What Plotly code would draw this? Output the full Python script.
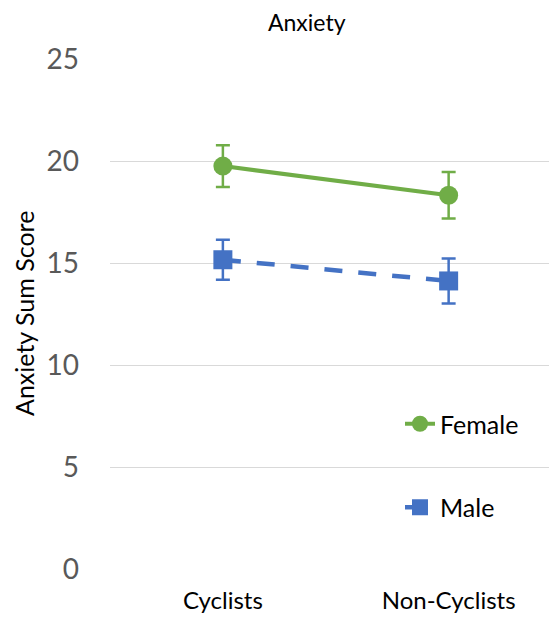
import plotly.graph_objects as go

categories = ["Cyclists", "Non-Cyclists"]
female_mean = [19.75, 18.32]
female_err = [1.02, 1.14]
male_mean = [15.16, 14.12]
male_err = [0.98, 1.1]
y_ticks = [0, 5, 10, 15, 20, 25]

GREEN = "#70AD47"
BLUE = "#4472C4"
FONT = "Lato"

# page has an 8px body margin; plot area spans page x 110..557, y 59..569
W, H = 549, 613
L, T, B = 102, 51, 52
PW, PH = W - L, H - T - B

fig = go.Figure()
fig.add_trace(go.Scatter(
    x=categories, y=female_mean, name="Female", legendgroup="f",
    mode="lines+markers",
    line=dict(color=GREEN, width=4),
    marker=dict(symbol="circle", size=19, color=GREEN),
    error_y=dict(type="data", array=female_err, color=GREEN, thickness=2.5, width=7),
))
fig.add_trace(go.Scatter(
    x=categories, y=male_mean, name="Male", legendgroup="m",
    mode="lines+markers",
    line=dict(color=BLUE, width=4.5, dash="18px,16px"),
    marker=dict(symbol="square", size=19, color=BLUE),
    error_y=dict(type="data", array=male_err, color=BLUE, thickness=2.5, width=7),
))

fig.update_layout(
    width=W, height=H,
    margin=dict(l=L, r=0, t=T, b=B, autoexpand=False),
    paper_bgcolor="white", plot_bgcolor="white",
    font=dict(family=FONT, color="black"),
    showlegend=True,
    legend=dict(
        x=(400 - 110) / PW, y=(569 - 401) / PH, xanchor="left", yanchor="top",
        font=dict(size=25, color="black", family=FONT),
        tracegroupgap=48, traceorder="grouped",
        bgcolor="rgba(0,0,0,0)",
    ),
    annotations=[
        dict(text="Anxiety", x=(307 - 110) / PW, y=1 + (59 - 22) / PH, xref="paper", yref="paper",
             showarrow=False, font=dict(size=23, color="black"), xanchor="center", yanchor="middle"),
        dict(text="Anxiety Sum Score", x=(24 - 110) / PW, y=0.5, xref="paper", yref="paper",
             showarrow=False, textangle=-90, font=dict(size=25, color="black"),
             xanchor="center", yanchor="middle"),
    ],
)

fig.update_xaxes(
    type="category", range=[-0.5, 1.48],
    showgrid=False, showline=False, zeroline=False,
    tickfont=dict(size=24, color="black"), ticks="", ticklabelstandoff=15,
)
fig.update_yaxes(
    range=[0, 25], tickvals=y_ticks,
    showgrid=True, gridcolor="#D9D9D9", gridwidth=1.3,
    zeroline=False, showline=False,
    tickfont=dict(size=28, color="#595959"), ticks="", ticklabelstandoff=30,
)

fig.write_html("out.html")
